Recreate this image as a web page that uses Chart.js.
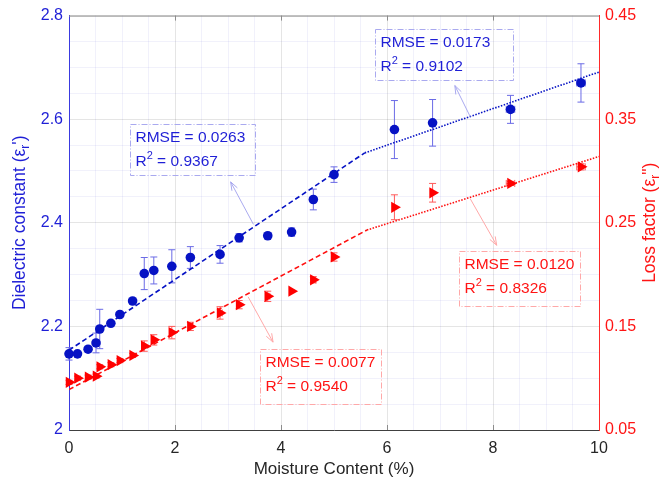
<!DOCTYPE html>
<html>
<head>
<meta charset="utf-8">
<script src="https://cdn.jsdelivr.net/npm/chart.js@4.4.1/dist/chart.umd.min.js"></script>
<style>
  html, body { margin: 0; padding: 0; background: #fff; }
  #wrap { width: 667px; height: 487px; position: relative; }
</style>
</head>
<body>
<div id="wrap"><canvas id="chart"></canvas></div>
<script>
// Moisture content (%) of each sample
const moisture = [0, 0.16, 0.36, 0.51, 0.58, 0.79, 0.96, 1.2, 1.42, 1.6, 1.94, 2.29, 2.85, 3.21, 3.75, 4.2, 4.61, 5.0, 6.14, 6.86, 8.33, 9.66];
const moistureErr = [0, 0, 0, 0, 0, 0, 0, 0, 0, 0, 0, 0, 0.04, 0, 0.04, 0, 0.04, 0, 0, 0, 0.08, 0.08];

// Dielectric constant (left axis)
const dielectric = [2.147, 2.147, 2.156, 2.168, 2.195, 2.206, 2.223, 2.249, 2.302, 2.308, 2.316, 2.333, 2.339, 2.371, 2.375, 2.382, 2.445, 2.493, 2.580, 2.593, 2.619, 2.670];
const dielectricErr = [0.012, 0, 0, 0.019, 0.038, 0, 0, 0, 0.031, 0.026, 0.032, 0.021, 0.017, 0.008, 0.003, 0.008, 0.020, 0.015, 0.056, 0.045, 0.027, 0.037];

// Loss factor (right axis)
const lossFactor = [0.096, 0.100, 0.101, 0.102, 0.111, 0.113, 0.117, 0.122, 0.131, 0.137, 0.144, 0.150, 0.163, 0.171, 0.179, 0.184, 0.195, 0.217, 0.265, 0.279, 0.288, 0.304];
const lossErr = [0.002, 0.002, 0.002, 0.002, 0.002, 0.002, 0.002, 0.002, 0.005, 0.005, 0.006, 0.004, 0.006, 0.004, 0.005, 0, 0.003, 0.004, 0.012, 0.009, 0.002, 0.003];

// Piecewise linear fits: [x, y] end points
const dielectricFitLow = [[0, 2.154], [5.58, 2.535]];
const dielectricFitHigh = [[5.58, 2.535], [10, 2.691]];
const lossFitLow = [[0, 0.089], [5.62, 0.243]];
const lossFitHigh = [[5.62, 0.243], [10, 0.314]];

// Fit statistics
const fitRmse = ['0.0263', '0.0173', '0.0077', '0.0120'];
const fitR2 = ['0.9367', '0.9102', '0.9540', '0.8326'];

// Tick labels
const xTickLabels = ['0', '2', '4', '6', '8', '10'];
const leftTickLabels = ['2', '2.2', '2.4', '2.6', '2.8'];
const rightTickLabels = ['0.05', '0.15', '0.25', '0.35', '0.45'];

const BLUE = '#1f1fd6';
const BLUE_PT = '#0612c4';
const BLUE_ERR = '#6b6be6';
const BLUE_LIGHT = '#a9a9ef';
const RED = '#ff1414';
const RED_ERR = '#ff5a5a';
const RED_LIGHT = '#ffa8a8';
const FONT = "'Liberation Sans', Arial, sans-serif";

const toPts = (xs, ys) => xs.map((x, i) => ({ x: x, y: ys[i] }));
const toLine = (pairs) => pairs.map(p => ({ x: p[0], y: p[1] }));

// Annotation boxes (data coords on the axis given) and arrows
const notes = [
  { axis: 'y', color: BLUE, border: BLUE_LIGHT, box: [1.16, 2.591, 3.51, 2.493], arrow: [3.48, 2.397, 3.05, 2.479] },
  { axis: 'y', color: BLUE, border: BLUE_LIGHT, box: [5.77, 2.774, 8.37, 2.675], arrow: [7.57, 2.605, 7.28, 2.665] },
  { axis: 'y1', color: RED, border: RED_LIGHT, box: [3.60, 0.1278, 5.88, 0.0751], arrow: [3.38, 0.1785, 3.85, 0.1348] },
  { axis: 'y1', color: RED, border: RED_LIGHT, box: [7.35, 0.2228, 9.65, 0.1695], arrow: [7.57, 0.2733, 8.07, 0.2283] }
];

function drawRuns(ctx, runs, x, y, size) {
  // runs: [text, 'n'|'sub'|'sup']
  let cx = x;
  runs.forEach(r => {
    const small = r[1] !== 'n';
    ctx.font = (small ? Math.round(size * 0.7) : size) + 'px ' + FONT;
    const dy = r[1] === 'sub' ? size * 0.3 : (r[1] === 'sup' ? -size * 0.4 : 0);
    ctx.fillText(r[0], cx, y + dy);
    cx += ctx.measureText(r[0]).width;
  });
  return cx - x;
}

function runsWidth(ctx, runs, size) {
  let w = 0;
  runs.forEach(r => {
    ctx.font = (r[1] !== 'n' ? Math.round(size * 0.7) : size) + 'px ' + FONT;
    w += ctx.measureText(r[0]).width;
  });
  return w;
}

const extrasPlugin = {
  id: 'extras',
  beforeDatasetsDraw(chart) {
    const ctx = chart.ctx;
    const sx = chart.scales.x, sy = chart.scales.y, sy1 = chart.scales.y1;
    ctx.save();
    ctx.lineWidth = 1;
    const bar = (scaleY, ys, errs, xerrs, color) => {
      ctx.strokeStyle = color;
      ys.forEach((v, i) => {
        const px = sx.getPixelForValue(moisture[i]);
        const py = scaleY.getPixelForValue(v);
        if (errs[i] > 0) {
          const t = scaleY.getPixelForValue(v + errs[i]);
          const b = scaleY.getPixelForValue(v - errs[i]);
          ctx.beginPath();
          ctx.moveTo(px, t); ctx.lineTo(px, b);
          ctx.moveTo(px - 3.5, t); ctx.lineTo(px + 3.5, t);
          ctx.moveTo(px - 3.5, b); ctx.lineTo(px + 3.5, b);
          ctx.stroke();
        }
        if (xerrs[i] > 0) {
          const l = sx.getPixelForValue(moisture[i] - xerrs[i]);
          const r = sx.getPixelForValue(moisture[i] + xerrs[i]);
          ctx.beginPath();
          ctx.moveTo(l, py); ctx.lineTo(r, py);
          ctx.moveTo(l, py - 3.5); ctx.lineTo(l, py + 3.5);
          ctx.moveTo(r, py - 3.5); ctx.lineTo(r, py + 3.5);
          ctx.stroke();
        }
      });
    };
    bar(sy, dielectric, dielectricErr, moistureErr, BLUE_ERR);
    bar(sy1, lossFactor, lossErr, moistureErr, RED_ERR);
    ctx.restore();
  },
  afterDraw(chart) {
    const ctx = chart.ctx;
    const a = chart.chartArea;
    const sx = chart.scales.x;
    ctx.save();

    // top border with inward ticks
    ctx.strokeStyle = '#8c8c8c';
    ctx.lineWidth = 1;
    ctx.beginPath();
    ctx.moveTo(a.left, a.top + 0.5);
    ctx.lineTo(a.right, a.top + 0.5);
    [2, 4, 6, 8].forEach(v => {
      const px = Math.round(sx.getPixelForValue(v)) + 0.5;
      ctx.moveTo(px, a.top); ctx.lineTo(px, a.top + 5);
      ctx.moveTo(px, a.bottom); ctx.lineTo(px, a.bottom - 5);
    });
    ctx.stroke();

    // annotations
    notes.forEach((n, i) => {
      const sc = chart.scales[n.axis];
      const x0 = Math.round(sx.getPixelForValue(n.box[0])) + 0.5;
      const y0 = Math.round(sc.getPixelForValue(n.box[1])) + 0.5;
      const x1 = Math.round(sx.getPixelForValue(n.box[2])) + 0.5;
      const y1 = Math.round(sc.getPixelForValue(n.box[3])) + 0.5;
      ctx.strokeStyle = n.border;
      ctx.lineWidth = 1;
      ctx.setLineDash([6, 2, 1, 2]);
      ctx.strokeRect(x0, y0, x1 - x0, y1 - y0);
      ctx.setLineDash([]);

      // arrow
      const ax0 = sx.getPixelForValue(n.arrow[0]), ay0 = sc.getPixelForValue(n.arrow[1]);
      const ax1 = sx.getPixelForValue(n.arrow[2]), ay1 = sc.getPixelForValue(n.arrow[3]);
      ctx.beginPath();
      ctx.moveTo(ax0, ay0); ctx.lineTo(ax1, ay1);
      ctx.stroke();
      const ang = Math.atan2(ay1 - ay0, ax1 - ax0);
      ctx.beginPath();
      ctx.moveTo(ax1 - 9 * Math.cos(ang - 0.35), ay1 - 9 * Math.sin(ang - 0.35));
      ctx.lineTo(ax1, ay1);
      ctx.lineTo(ax1 - 9 * Math.cos(ang + 0.35), ay1 - 9 * Math.sin(ang + 0.35));
      ctx.stroke();

      // text
      ctx.fillStyle = n.color;
      ctx.textBaseline = 'middle';
      ctx.textAlign = 'left';
      drawRuns(ctx, [['RMSE = ' + fitRmse[i], 'n']], x0 + 5, y0 + 13.5, 15.5);
      drawRuns(ctx, [['R', 'n'], ['2', 'sup'], [' = ' + fitR2[i], 'n']], x0 + 5, y0 + 37.5, 15.5);
    });

    // axis titles
    ctx.textBaseline = 'middle';
    ctx.textAlign = 'left';
    const cy = (a.top + a.bottom) / 2;

    const leftRuns = [['Dielectric constant (\u03b5', 'n'], ['r', 'sub'], ["')", 'n']];
    ctx.save();
    ctx.translate(20, cy);
    ctx.rotate(-Math.PI / 2);
    ctx.fillStyle = BLUE;
    drawRuns(ctx, leftRuns, -runsWidth(ctx, leftRuns, 17.5) / 2, 0, 17.5);
    ctx.restore();

    const rightRuns = [['Loss factor (\u03b5', 'n'], ['r', 'sub'], ['")', 'n']];
    ctx.save();
    ctx.translate(650, cy);
    ctx.rotate(-Math.PI / 2);
    ctx.fillStyle = RED;
    drawRuns(ctx, rightRuns, -runsWidth(ctx, rightRuns, 17.5) / 2, 0, 17.5);
    ctx.restore();

    const bottomRuns = [['Moisture Content (%)', 'n']];
    ctx.fillStyle = '#262626';
    drawRuns(ctx, bottomRuns, (a.left + a.right) / 2 - runsWidth(ctx, bottomRuns, 17) / 2, 469, 17);

    ctx.restore();
  }
};

const isMultiple = (v, step) => Math.abs(v / step - Math.round(v / step)) < 1e-6;

new Chart(document.getElementById('chart'), {
  type: 'scatter',
  data: {
    datasets: [
      {
        label: 'Dielectric constant',
        data: toPts(moisture, dielectric),
        yAxisID: 'y',
        pointStyle: 'circle',
        pointRadius: 4.8,
        backgroundColor: BLUE_PT,
        borderColor: BLUE_PT,
        borderWidth: 0,
        clip: false,
        order: 0
      },
      {
        label: 'Loss factor',
        data: toPts(moisture, lossFactor),
        yAxisID: 'y1',
        pointStyle: 'triangle',
        rotation: 90,
        pointRadius: 6.5,
        backgroundColor: '#ff0000',
        borderColor: '#ff0000',
        borderWidth: 0,
        clip: false,
        order: 0
      },
      {
        data: toLine(dielectricFitLow), yAxisID: 'y', showLine: true, pointRadius: 0,
        borderColor: BLUE_PT, borderWidth: 1.6, borderDash: [5, 3], order: 1
      },
      {
        data: toLine(dielectricFitHigh), yAxisID: 'y', showLine: true, pointRadius: 0,
        borderColor: BLUE_PT, borderWidth: 1.6, borderDash: [1.5, 1.5], order: 1
      },
      {
        data: toLine(lossFitLow), yAxisID: 'y1', showLine: true, pointRadius: 0,
        borderColor: '#ff1010', borderWidth: 1.6, borderDash: [5, 3], order: 1
      },
      {
        data: toLine(lossFitHigh), yAxisID: 'y1', showLine: true, pointRadius: 0,
        borderColor: '#ff1010', borderWidth: 1.6, borderDash: [1.5, 1.5], order: 1
      }
    ]
  },
  options: {
    responsive: true,
    maintainAspectRatio: false,
    animation: false,
    layout: { padding: { top: 15, left: 0, right: 0, bottom: 0 } },
    plugins: { legend: { display: false }, tooltip: { enabled: false } },
    scales: {
      x: {
        type: 'linear', min: 0, max: 10,
        afterFit: s => { s.height = 57; },
        border: { color: '#404040', width: 1 },
        grid: {
          drawTicks: false,
          color: c => isMultiple(c.tick.value, 2) ? 'rgba(0,0,0,0.10)' : 'rgba(60,60,200,0.07)'
        },
        ticks: {
          stepSize: 0.5, autoSkip: false, maxRotation: 0, padding: 9,
          color: '#262626', font: { family: FONT, size: 16 },
          callback: v => isMultiple(v, 2) ? xTickLabels[Math.round(v / 2)] : ''
        }
      },
      y: {
        type: 'linear', position: 'left', min: 2, max: 2.8,
        afterFit: s => { s.width = 69; },
        border: { color: '#3a3ae0', width: 1 },
        grid: {
          drawTicks: false,
          color: c => isMultiple(c.tick.value - 2, 0.2) ? 'rgba(0,0,0,0.10)' : 'rgba(60,60,200,0.07)'
        },
        ticks: {
          stepSize: 0.05, autoSkip: false, padding: 6,
          color: BLUE, font: { family: FONT, size: 16 },
          callback: v => isMultiple(v - 2, 0.2) ? leftTickLabels[Math.round((v - 2) / 0.2)] : ''
        }
      },
      y1: {
        type: 'linear', position: 'right', min: 0.05, max: 0.45,
        afterFit: s => { s.width = 68; },
        border: { color: '#ff2a2a', width: 1 },
        grid: { drawOnChartArea: false, drawTicks: false },
        ticks: {
          stepSize: 0.1, autoSkip: false, padding: 6,
          color: RED, font: { family: FONT, size: 16 },
          callback: v => rightTickLabels[Math.round((v - 0.05) / 0.1)]
        }
      }
    }
  },
  plugins: [extrasPlugin]
});
</script>
</body>
</html>
